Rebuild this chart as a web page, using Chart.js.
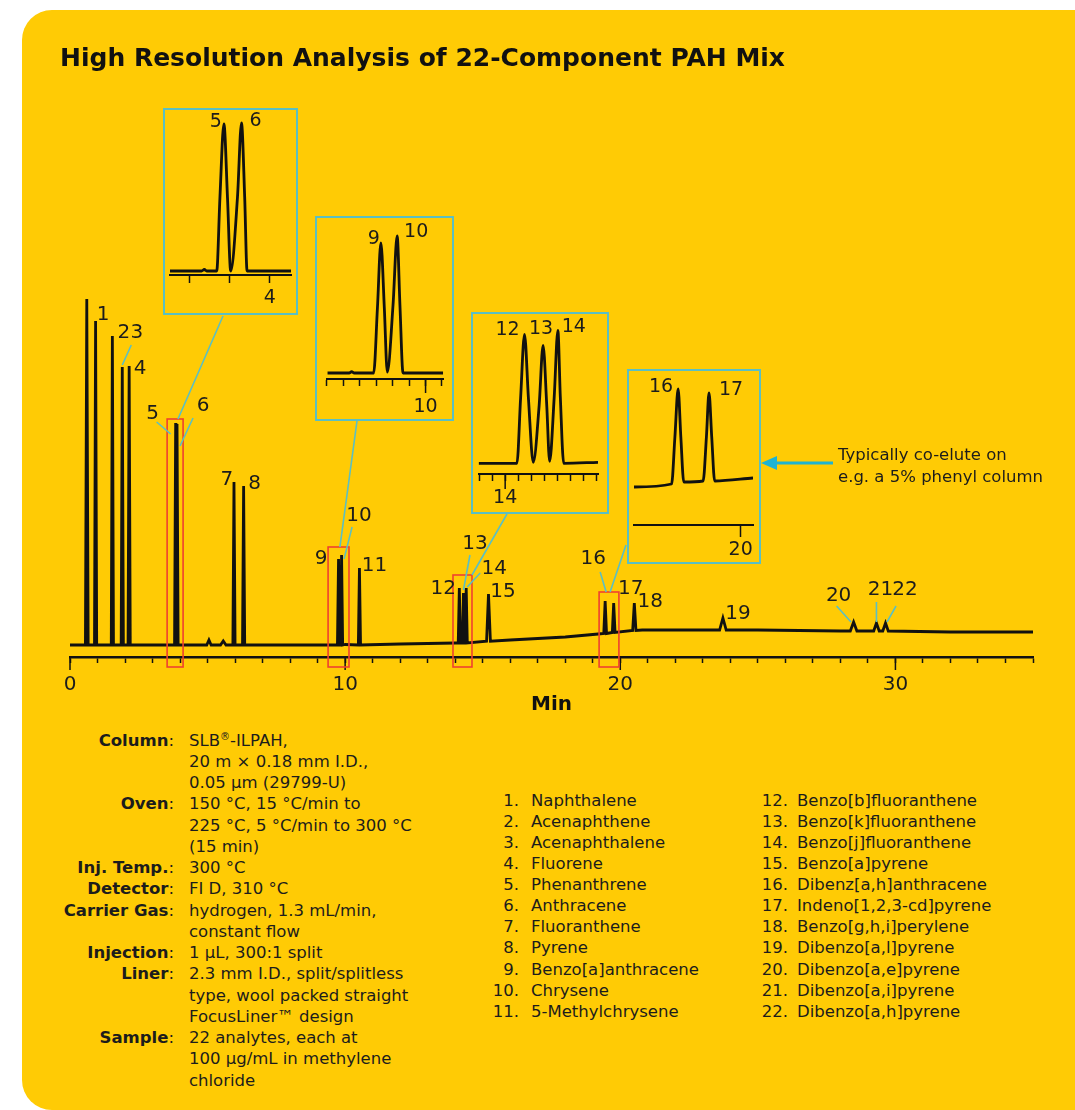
<!DOCTYPE html>
<html>
<head>
<meta charset="utf-8">
<script src="https://cdn.jsdelivr.net/npm/chart.js@4.4.1/dist/chart.umd.min.js"></script>
<style>
  body { margin: 0; background: #fff; font-family: "DejaVu Sans", sans-serif; color: #1c1c1c; }
  #page { position: relative; width: 1075px; height: 1110px; overflow: hidden; }
  #card { position: absolute; left: 22px; top: 10px; width: 1090px; height: 1100px; border-radius: 30px; background: #FFCB05; }
  #main { position: absolute; left: 0; top: 0; }
  .inset { position: absolute; box-sizing: border-box; border: 2px solid #5BBFC4; }
  .inset canvas { position: absolute; left: 0; top: 0; }
  .txt { position: absolute; white-space: nowrap; font-size: 16.5px; line-height: 21.2px; }
  #title { position: absolute; left: 60px; top: 43px; font-size: 25px; line-height: 30px; font-weight: bold; color: #111; white-space: nowrap; }
  #note { position: absolute; left: 838px; top: 444px; font-size: 16.5px; line-height: 22px; white-space: nowrap; }
  .lab { text-align: right; font-weight: bold; }
  .lab span { font-weight: normal; }
  sup { font-size: 10px; vertical-align: 6px; line-height: 0; }
</style>
</head>
<body>
<div id="page">
  <div id="card"></div>
  <canvas id="main" width="1075" height="720"></canvas>
  <div id="title">High Resolution Analysis of 22-Component PAH Mix</div>
  <div id="note">Typically co-elute on<br>e.g. a 5% phenyl column</div>
</div>
<script>
// ---- full chromatogram: time in min, detector signal in arbitrary units ----
const baseTimes  = [0, 2, 5, 9, 10, 12, 14, 16, 18, 19.2, 20.8, 22, 25, 28, 32, 35];
const baseSignal = [0, 0, 0, 0, 0.5, 1, 2, 5, 8, 11, 15, 15, 15, 14, 13, 13];

const peakIds   = ['S', '1', '2', '3', '4', '5', '6', 'a', 'b', '7', '8', '9', '10', '11', '12', '13', '14', '15', '16', '17', '18', '19', '20', '21', '22'];
const peakTimes = [0.61, 0.93, 1.54, 1.90, 2.15, 3.84, 3.89, 5.05, 5.57, 5.96, 6.31, 9.76, 9.87, 10.52, 14.15, 14.30, 14.40, 15.21, 19.45, 19.76, 20.51, 23.73, 28.48, 29.31, 29.64];
const peakTops  = [346, 324, 309, 278, 279, 222, 221, 5, 4, 163, 159, 86, 90, 77, 57, 52, 57, 51, 44, 42, 42, 27, 23, 22, 22];
const peakFoot  = [0, 0, 0, 0, 0, 0, 0, 0, 0, 0, 0, 0, 0, 0, 2, 2, 2, 3.8, 11.5, 12.5, 14.5, 15, 14, 14, 14];
const peakHalfW = [0.05, 0.04, 0.04, 0.04, 0.04, 0.04, 0.04, 0.08, 0.1, 0.04, 0.04, 0.04, 0.04, 0.04, 0.04, 0.04, 0.04, 0.07, 0.05, 0.05, 0.06, 0.12, 0.12, 0.1, 0.1];

const majorTicks = [0, 10, 20, 30];

// zoomed windows shown in the insets: [from min, to min, top of box in signal units]
const zoomWindows = [[3.53, 4.11, 226], [9.38, 10.14, 98], [13.92, 14.61, 70], [19.23, 19.95, 53]];

// ---- insets (time in min, signal above local baseline) ----
const insetA_t = [3.75, 3.829, 3.836, 3.842, 3.867, 3.875, 3.885, 3.894, 3.902, 3.919, 3.929, 3.937, 3.943, 4.053];
const insetA_s = [0, 0, 1.5, 0, 0, 73, 147, 73, 0, 74, 148, 74, 0, 0];
const insetA_ticks = [3.8, 3.9, 4.0];
const insetA_tickText = ['', '', '4'];

const insetB_t = [9.402, 9.535, 9.55, 9.566, 9.684, 9.707, 9.728, 9.749, 9.767, 9.802, 9.827, 9.844, 9.863, 10.107];
const insetB_s = [0, 0, 1.3, 0, 0, 65, 130, 65, 1, 68, 137, 68, 0, 0];
const insetB_ticks = [9.4, 9.5, 9.6, 9.7, 9.8, 9.9, 10.0, 10.1];
const insetB_tickText = ['', '', '', '', '', '', '10', ''];

const insetC_t = [13.797, 14.09, 14.118, 14.148, 14.178, 14.215, 14.26, 14.29, 14.318, 14.34, 14.375, 14.403, 14.422, 14.448, 14.71];
const insetC_s = [0, 0, 65, 129, 65, 1, 58, 118, 58, 2, 66, 133, 66, 0, 1];
const insetC_ticks = [13.8, 13.9, 14.0, 14.1, 14.2, 14.3, 14.4, 14.5, 14.6, 14.7];
const insetC_tickText = ['', '', '14', '', '', '', '', '', '', ''];

const insetD_t = [19.137, 19.441, 19.468, 19.494, 19.516, 19.54, 19.696, 19.723, 19.744, 19.766, 19.79, 20.1];
const insetD_s = [38, 41, 88, 136, 88, 43, 44, 88, 132, 88, 44, 47];
const insetD_ticks = [20];
const insetD_tickText = ['20'];

const compounds = ['Naphthalene', 'Acenaphthene', 'Acenaphthalene', 'Fluorene', 'Phenanthrene', 'Anthracene',
  'Fluoranthene', 'Pyrene', 'Benzo[a]anthracene', 'Chrysene', '5-Methylchrysene', 'Benzo[b]fluoranthene',
  'Benzo[k]fluoranthene', 'Benzo[j]fluoranthene', 'Benzo[a]pyrene', 'Dibenz[a,h]anthracene',
  'Indeno[1,2,3-cd]pyrene', 'Benzo[g,h,i]perylene', 'Dibenzo[a,l]pyrene', 'Dibenzo[a,e]pyrene',
  'Dibenzo[a,i]pyrene', 'Dibenzo[a,h]pyrene'];

const conditions = [
  ['Column', ['SLB<sup>®</sup>-ILPAH,', '20 m × 0.18 mm I.D.,', '0.05 µm (29799-U)']],
  ['Oven', ['150 °C, 15 °C/min to', '225 °C, 5 °C/min to 300 °C', '(15 min)']],
  ['Inj. Temp.', ['300 °C']],
  ['Detector', ['FI D, 310 °C']],
  ['Carrier Gas', ['hydrogen, 1.3 mL/min,', 'constant flow']],
  ['Injection', ['1 µL, 300:1 split']],
  ['Liner', ['2.3 mm I.D., split/splitless', 'type, wool packed straight', 'FocusLiner™ design']],
  ['Sample', ['22 analytes, each at', '100 µg/mL in methylene', 'chloride']]
];

// ---- layout (page pixels) ----
const CYAN = '#5BBFC4';
const FONT = 'DejaVu Sans';
Chart.defaults.font.family = FONT;

// label offsets from each peak apex
const mainLabelPos = {
  '1': [7.5, -6], '2': [11.6, -3], '3': [14.7, -34], '4': [11, 3], '5': [-23, -9], '6': [26, -18],
  '7': [-7, -2], '8': [11, -2], '9': [-17.5, 0], '10': [17.5, -39], '11': [15, -2], '12': [-16, 1],
  '13': [11.5, -49], '14': [28, -19], '15': [14.5, -2], '16': [-12, -42], '17': [17, -14], '18': [16, -1],
  '19': [15, -4], '20': [-15, -26], '21': [4, -33], '22': [19.5, -33]
};
// leader lines: peak, from dx, dy, to dx, dy
const mainLeaders = [
  ['3', 9, -22, 0, -2], ['5', -19, -1, -5, 11], ['6', 16, -6, 3, 22], ['10', 10.5, -28, 2.5, 4],
  ['13', 6.5, -38, 0, -3], ['14', 14, -15, 1, -1], ['16', -5, -29, 1, -9],
  ['20', -17, -16, -2.6, 0], ['21', 0, -21, 0, -1], ['22', 10.5, -17, 1.5, -1]
];

// box = [left, top, right, bottom], trace = [left, right] in page px
const insets = [
  { t: insetA_t, s: insetA_s, ticks: insetA_ticks, tickText: insetA_tickText, box: [164, 109, 297, 314], trace: [170, 291],
    axisY: 275, baseY: 271, minorLen: 8, major: [], majorLen: 8, pad: 4,
    peaks: [[6, '5', -8, -2], [10, '6', 14, -2]], link: [223, 316], linkT: 3.925 },
  { t: insetB_t, s: insetB_s, ticks: insetB_ticks, tickText: insetB_tickText, box: [316, 217, 453, 420], trace: [323, 447],
    axisY: 379, baseY: 373, minorLen: 7, major: [10], majorLen: 14, pad: 10,
    peaks: [[6, '9', -7, -4], [10, '10', 19, -4]], link: [357, 421], linkT: 9.81 },
  { t: insetC_t, s: insetC_s, ticks: insetC_ticks, tickText: insetC_tickText, box: [472, 313, 608, 513], trace: [476, 598],
    axisY: 474, baseY: 463.3, minorLen: 7, major: [14], majorLen: 15, pad: 6,
    peaks: [[3, '12', -17, -4], [7, '13', -2, -16], [11, '14', 16, -3]], link: [507, 514], linkT: 14.61 },
  { t: insetD_t, s: insetD_s, ticks: insetD_ticks, tickText: insetD_tickText, box: [628, 370, 760, 563], trace: [634, 753],
    axisY: 525, baseY: 525, minorLen: 12, major: [], majorLen: 12, pad: 2,
    peaks: [[3, '16', -17, -2], [8, '17', 22, -3]], link: [626, 545], linkT: 19.63 }
];

function seg(ctx, x1, y1, x2, y2) {
  ctx.beginPath(); ctx.moveTo(x1, y1); ctx.lineTo(x2, y2); ctx.stroke();
}

function buildTrace() {
  const pts = [];
  baseTimes.forEach((t, i) => {
    const inPeak = peakTimes.some((p, j) => Math.abs(t - p) <= peakHalfW[j]);
    if (!inPeak) pts.push({ x: t, y: baseSignal[i] });
  });
  peakTimes.forEach((t, j) => {
    pts.push({ x: t - peakHalfW[j], y: peakFoot[j] }, { x: t, y: peakTops[j] }, { x: t + peakHalfW[j], y: peakFoot[j] });
  });
  return pts.sort((a, b) => a.x - b.x);
}

const mainOverlay = {
  id: 'mainOverlay',
  afterDraw(chart) {
    const { ctx, chartArea: ca, scales: { x, y } } = chart;
    const apex = id => {
      const j = peakIds.indexOf(id);
      return [x.getPixelForValue(peakTimes[j]), y.getPixelForValue(peakTops[j])];
    };
    ctx.save();
    ctx.strokeStyle = '#111'; ctx.lineWidth = 1.5;
    majorTicks.forEach(v => { const px = x.getPixelForValue(v); seg(ctx, px, ca.bottom, px, ca.bottom + 13); });

    ctx.strokeStyle = '#EF4130'; ctx.lineWidth = 1.6;
    zoomWindows.forEach(w => {
      const l = x.getPixelForValue(w[0]), r = x.getPixelForValue(w[1]), t = y.getPixelForValue(w[2]);
      ctx.strokeRect(l, t, r - l, ca.bottom + 10 - t);
    });

    ctx.strokeStyle = CYAN; ctx.lineWidth = 1.6;
    insets.forEach((s, i) => seg(ctx, s.link[0], s.link[1], x.getPixelForValue(s.linkT), y.getPixelForValue(zoomWindows[i][2])));
    mainLeaders.forEach(([id, fx, fy, tx, ty]) => {
      const [px, py] = apex(id);
      seg(ctx, px + fx, py + fy, px + tx, py + ty);
    });

    ctx.fillStyle = '#1c1c1c'; ctx.font = '20px "' + FONT + '"';
    ctx.textAlign = 'center'; ctx.textBaseline = 'middle';
    Object.entries(mainLabelPos).forEach(([id, [dx, dy]]) => {
      const [px, py] = apex(id);
      ctx.fillText(id, px + dx, py + dy);
    });

    // arrow pointing at the 16/17 inset
    ctx.strokeStyle = '#1FB3D3'; ctx.fillStyle = '#1FB3D3'; ctx.lineWidth = 3;
    seg(ctx, 833, 463, 772, 463);
    ctx.beginPath(); ctx.moveTo(761, 463); ctx.lineTo(777, 456); ctx.lineTo(777, 470); ctx.closePath(); ctx.fill();
    ctx.restore();
  }
};

new Chart(document.getElementById('main'), {
  type: 'line',
  data: { datasets: [{ data: buildTrace(), borderColor: '#111', borderWidth: 2.8, pointRadius: 0, tension: 0, fill: false }] },
  options: {
    responsive: false, animation: false, events: [],
    layout: { padding: { left: 70, right: 42, top: 285, bottom: 0 } },
    plugins: { legend: { display: false }, tooltip: { enabled: false } },
    scales: {
      x: {
        type: 'linear', min: 0, max: 35,
        afterFit: s => { s.height = 63; },
        ticks: { stepSize: 1, autoSkip: false, maxRotation: 0, padding: 10, color: '#1c1c1c', font: { size: 20 },
                 callback: v => majorTicks.includes(v) ? String(v) : '' },
        grid: { drawOnChartArea: false, tickLength: 6, tickColor: '#111', tickWidth: 1.5 },
        border: { color: '#111', width: 2.5 },
        title: { display: true, text: 'Min', color: '#111', font: { size: 20, weight: 'bold' }, padding: { top: 0, bottom: 3 } }
      },
      y: { display: false, min: -12, max: 360 }
    }
  },
  plugins: [mainOverlay]
});

function makeInset(spec) {
  const [L, T, R, B] = spec.box;
  const wrap = document.createElement('div');
  wrap.className = 'inset';
  Object.assign(wrap.style, { left: (L - 1) + 'px', top: (T - 1) + 'px', width: (R - L + 2) + 'px', height: (B - T + 2) + 'px' });
  const cv = document.createElement('canvas');
  cv.width = R - L - 2; cv.height = B - T - 2;
  wrap.appendChild(cv);
  document.getElementById('page').appendChild(wrap);

  const innerL = L + 1, innerT = T + 1, innerR = R - 1, innerB = B - 1;
  const ymin = -(spec.axisY - spec.baseY);
  const ymax = ymin + (spec.axisY - innerT);

  const overlay = {
    id: 'insetOverlay',
    afterDraw(chart) {
      const { ctx, chartArea: ca, scales: { x, y } } = chart;
      ctx.save();
      ctx.strokeStyle = '#111'; ctx.lineWidth = 1.5;
      spec.major.forEach(v => { const px = x.getPixelForValue(v); seg(ctx, px, ca.bottom, px, ca.bottom + spec.majorLen); });
      ctx.fillStyle = '#1c1c1c'; ctx.font = '19px "' + FONT + '"';
      ctx.textAlign = 'center'; ctx.textBaseline = 'middle';
      spec.peaks.forEach(([i, txt, dx, dy]) => {
        ctx.fillText(txt, x.getPixelForValue(spec.t[i]) + dx, y.getPixelForValue(spec.s[i]) + dy);
      });
      ctx.restore();
    }
  };

  new Chart(cv, {
    type: 'line',
    data: { datasets: [{ data: spec.t.map((t, i) => ({ x: t, y: spec.s[i] })), borderColor: '#111', borderWidth: 2.8,
                         pointRadius: 0, cubicInterpolationMode: 'monotone', fill: false }] },
    options: {
      responsive: false, animation: false, events: [],
      layout: { padding: { left: spec.trace[0] - innerL, right: innerR - spec.trace[1], top: 0, bottom: 0 } },
      plugins: { legend: { display: false }, tooltip: { enabled: false } },
      scales: {
        x: {
          type: 'linear', min: spec.t[0], max: spec.t[spec.t.length - 1],
          afterBuildTicks: s => { s.ticks = spec.ticks.map(v => ({ value: v })); },
          afterFit: s => { s.height = innerB - spec.axisY; },
          ticks: { autoSkip: false, maxRotation: 0, padding: spec.pad, color: '#1c1c1c', font: { size: 19 },
                   callback: (v, i) => spec.tickText[i] },
          grid: { drawOnChartArea: false, tickLength: spec.minorLen, tickColor: '#111', tickWidth: 1.5 },
          border: { color: '#111', width: 2 }
        },
        y: { display: false, min: ymin, max: ymax }
      }
    },
    plugins: [overlay]
  });
}

insets.forEach(makeInset);

// ---- text blocks ----
const page = document.getElementById('page');
function addText(html, left, top, cls, align) {
  const d = document.createElement('div');
  d.className = 'txt' + (cls ? ' ' + cls : '');
  d.innerHTML = html;
  d.style.top = top + 'px';
  if (align === 'right') { d.style.right = (1075 - left) + 'px'; d.style.textAlign = 'right'; }
  else d.style.left = left + 'px';
  page.appendChild(d);
}
let row = 0;
conditions.forEach(([label, lines]) => {
  addText(label + '<span>:</span>', 174, 729.5 + row * 21.25, 'lab', 'right');
  lines.forEach(l => { addText(l, 189, 729.5 + row * 21.25); row++; });
});
compounds.forEach((name, i) => {
  const col = i < 11 ? 0 : 1;
  const r = i % 11;
  const top = 789.7 + r * 21.1;
  addText((i + 1) + '.', col ? 788 : 519, top, '', 'right');
  addText(name, col ? 797 : 531, top);
});
</script>
</body>
</html>
